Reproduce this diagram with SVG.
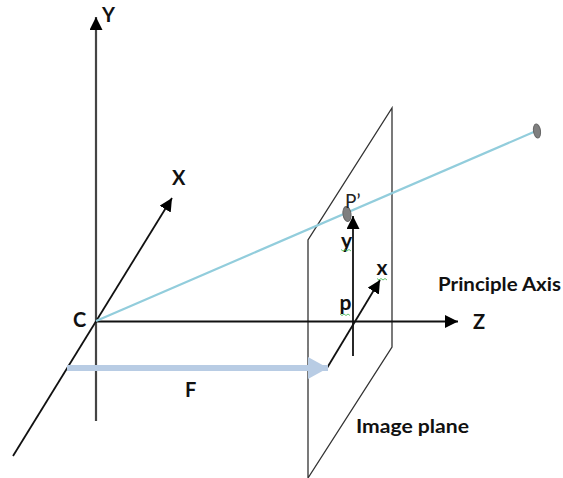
<svg xmlns="http://www.w3.org/2000/svg" width="563" height="478" viewBox="0 0 563 478">
<style>
.t{font-family:"Lato","Open Sans","Liberation Sans",sans-serif;font-weight:700;fill:#111}
.ax{fill:none;stroke:#111;stroke-width:1.800}
.sq{fill:none;stroke:#3bb54a;stroke-width:.8}
</style>
<defs>
<marker id="a" markerUnits="userSpaceOnUse" markerWidth="14" markerHeight="14" refX="13" refY="6.5" orient="auto"><path d="M0 0L13 6.500L0 13Z" fill="#000"/></marker>
<marker id="f" markerUnits="userSpaceOnUse" markerWidth="20" markerHeight="22" refX="20" refY="11" orient="auto"><path d="M0 0L20 11L0 22Z" fill="#b8cce4"/></marker>
</defs>
<rect width="563" height="478" fill="#fff"/>
<g id="connectors">
<path d="M308 478V240L392 108V347L308 478" fill="none" stroke="#333" stroke-width="1.300"/>
<path d="M96 421V17" fill="none" stroke="#444" stroke-width="2.200" marker-end="url(#a)"/>
<path class="ax" d="M96 321.500H458" marker-end="url(#a)"/>
<path class="ax" d="M13 456L172 198" marker-end="url(#a)"/>
<path d="M96 321L536 131" stroke="#92cddc" stroke-width="2.200" fill="none"/>
<path class="ax" d="M353 356V216" marker-end="url(#a)"/>
<path class="ax" d="M327 368L380 280" marker-end="url(#a)"/>
<path d="M67 368H328" stroke="#b8cce4" stroke-width="6" fill="none" marker-end="url(#f)"/>
</g>
<g id="point-far"><ellipse cx="537" cy="131" rx="3.500" ry="7" fill="#7f7f7f" stroke="#666" transform="rotate(-8 537 131)"/></g>
<g id="point-image"><ellipse cx="347" cy="214" rx="4" ry="7.500" fill="#7f7f7f" stroke="#666" transform="rotate(-8 347 214)"/></g>
<g id="label-Y"><text class="t" x="102" y="22" font-size="20">Y</text></g>
<g id="label-X"><text class="t" x="172" y="185" font-size="20">X</text></g>
<g id="label-C"><text class="t" x="73" y="327" font-size="20">C</text></g>
<g id="label-Z"><text class="t" x="473" y="329" font-size="20">Z</text></g>
<g id="label-F"><text class="t" x="185" y="397" font-size="20">F</text></g>
<g id="label-P"><text x="345" y="208" font-size="19" font-family="Lato,sans-serif" fill="#222">P’</text></g>
<g id="label-y"><text class="t" x="341" y="248" font-size="21">y</text><path class="sq" d="M341 249.500l2 1.500l2-1.500l2 1.500l2-1.500l2 1.500"/></g>
<g id="label-x"><text class="t" x="376.500" y="275" font-size="21">x</text><path class="sq" d="M377 278.500l2 1.500l2-1.500l2 1.500l2-1.500l2 1.500"/></g>
<g id="label-p"><text class="t" x="339.500" y="310" font-size="21">p</text><path class="sq" d="M340 314l2 1.500l2-1.500l2 1.500l2-1.500l2 1.500"/></g>
<g id="label-axis"><text class="t" x="438" y="291" font-size="19" textLength="123" lengthAdjust="spacingAndGlyphs">Principle Axis</text></g>
<g id="label-plane"><text class="t" x="356" y="433" font-size="19" textLength="113" lengthAdjust="spacingAndGlyphs">Image plane</text></g>
</svg>
